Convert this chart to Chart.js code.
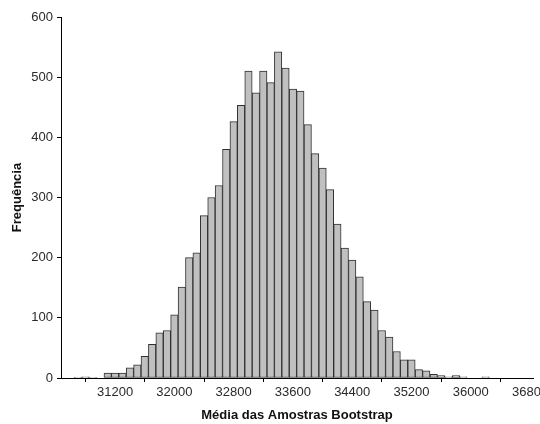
<!DOCTYPE html>
<html>
<head>
<meta charset="utf-8">
<title>Média das Amostras Bootstrap</title>
<script src="https://cdn.jsdelivr.net/npm/chart.js@4/dist/chart.umd.min.js"></script>
<style>
  html, body { margin: 0; padding: 0; background: #ffffff; overflow: hidden; }
  #wrap { width: 540px; height: 424px; position: relative; }
</style>
</head>
<body>
<div id="wrap"><canvas id="hist" width="540" height="424"></canvas></div>
<script>
// Bin centres (width 100) of the bootstrap-mean histogram
const binCenters = [
  30700, 30800, 30900, 31000, 31100, 31200, 31300, 31400, 31500, 31600,
  31700, 31800, 31900, 32000, 32100, 32200, 32300, 32400, 32500, 32600,
  32700, 32800, 32900, 33000, 33100, 33200, 33300, 33400, 33500, 33600,
  33700, 33800, 33900, 34000, 34100, 34200, 34300, 34400, 34500, 34600,
  34700, 34800, 34900, 35000, 35100, 35200, 35300, 35400, 35500, 35600,
  35700, 35800, 35900, 36000, 36100, 36200
];

// Frequency of each bin
const frequencies = [
  1, 2, 1, 0, 8, 8, 8, 17, 22, 36,
  56, 75, 79, 105, 151, 200, 208, 270, 300, 320,
  380, 426, 453, 510, 474, 510, 491, 542, 515, 480,
  477, 421, 373, 349, 313, 256, 216, 196, 168, 127,
  113, 79, 68, 44, 30, 30, 14, 12, 6, 4,
  2, 4, 2, 0, 0, 2
];

// Labelled positions on the horizontal axis
const xTickValues = [31200, 32000, 32800, 33600, 34400, 35200, 36000, 36800];
const xRange = [30470, 36840];
const yRange = [0, 600];
const yStep = 100;

const axisTitleX = 'Média das Amostras Bootstrap';
const axisTitleY = 'Frequência';

const points = binCenters.map((c, i) => ({ x: c, y: frequencies[i] }));

const FONT = "'Liberation Sans', Arial, sans-serif";

new Chart(document.getElementById('hist'), {
  type: 'bar',
  data: {
    datasets: [{
      data: points,
      backgroundColor: '#c0c0c0',
      borderColor: '#303030',
      borderWidth: 1,
      borderSkipped: false,
      barPercentage: 1,
      categoryPercentage: 1
    }]
  },
  options: {
    responsive: false,
    devicePixelRatio: 1,
    animation: false,
    layout: { padding: { left: 0, right: 7, top: 17, bottom: 0 } },
    plugins: { legend: { display: false }, tooltip: { enabled: false } },
    scales: {
      x: {
        type: 'linear',
        min: xRange[0],
        max: xRange[1],
        offset: false,
        afterBuildTicks: (axis) => { axis.ticks = xTickValues.map(v => ({ value: v })); },
        afterFit: (axis) => { axis.height = 46; axis.paddingLeft = 0; axis.paddingRight = 0; },
        grid: { display: true, drawOnChartArea: false, drawTicks: true, tickLength: 4, color: '#000000', lineWidth: 1 },
        border: { display: true, color: '#000000', width: 1 },
        ticks: {
          autoSkip: false,
          maxRotation: 0,
          padding: 3,
          color: '#2a2a2a',
          font: { family: FONT, size: 13 },
          callback: (v) => String(v)
        },
        title: {
          display: true,
          text: axisTitleX,
          color: '#111111',
          font: { family: FONT, size: 13, weight: 'bold' },
          padding: { top: 0, bottom: 1 }
        }
      },
      y: {
        min: yRange[0],
        max: yRange[1],
        afterFit: (axis) => { axis.width = 61; axis.paddingTop = 0; axis.paddingBottom = 0; },
        grid: { display: true, drawOnChartArea: false, drawTicks: true, tickLength: 4, color: '#000000', lineWidth: 1 },
        border: { display: true, color: '#000000', width: 1 },
        ticks: {
          stepSize: yStep,
          padding: 4,
          color: '#2a2a2a',
          font: { family: FONT, size: 13 }
        },
        title: {
          display: true,
          text: axisTitleY,
          color: '#111111',
          font: { family: FONT, size: 13, weight: 'bold' },
          padding: { top: 10, bottom: 0 }
        }
      }
    }
  }
});
</script>
</body>
</html>
